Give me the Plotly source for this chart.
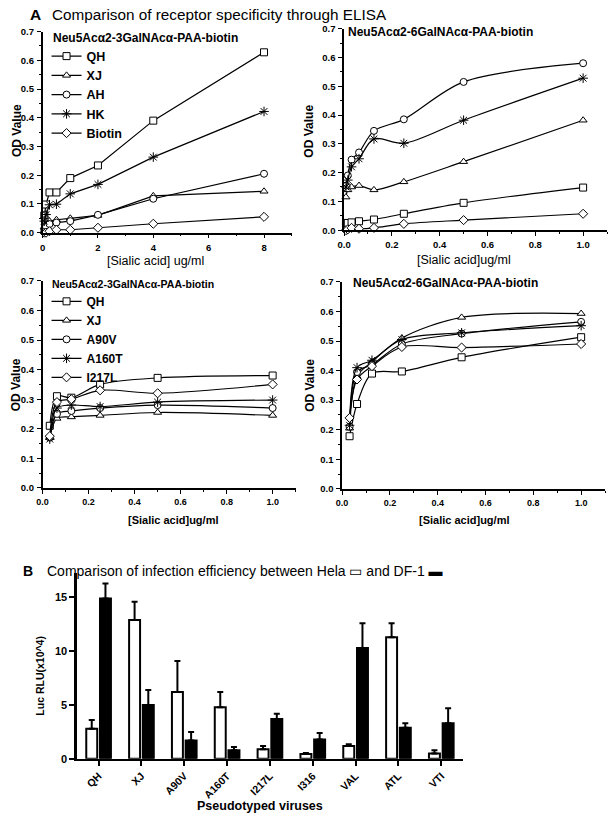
import plotly.graph_objects as go

W, H = 609, 822
FONT = "Liberation Sans, Arial, sans-serif"

# ---------------- data ----------------
# Panel A1: Neu5Aca2-3GalNAca-PAA-biotin (wild strains)
x_a1 = [0.0625, 0.125, 0.25, 0.5, 1, 2, 4, 8]
a1_QH = [0.06, 0.098, 0.14, 0.14, 0.19, 0.234, 0.39, 0.628]
a1_XJ = [0.02, 0.03, 0.04, 0.045, 0.05, 0.06, 0.128, 0.144]
a1_AH = [0.01, 0.02, 0.03, 0.035, 0.04, 0.062, 0.118, 0.205]
a1_HK = [0.04, 0.063, 0.097, 0.099, 0.135, 0.168, 0.263, 0.422]
a1_Biotin = [0.0, 0.0, 0.005, 0.01, 0.01, 0.017, 0.031, 0.055]

# Panel A2: Neu5Aca2-6GalNAca-PAA-biotin (wild strains)
x_a2 = [0.0078125, 0.015625, 0.03125, 0.0625, 0.125, 0.25, 0.5, 1.0]
a2_QH = [0.025, 0.025, 0.027, 0.031, 0.037, 0.057, 0.095, 0.148]
a2_XJ = [0.115, 0.14, 0.15, 0.155, 0.14, 0.168, 0.238, 0.382]
a2_AH = [0.155, 0.19, 0.245, 0.27, 0.345, 0.385, 0.515, 0.58]
a2_HK = [0.15, 0.174, 0.22, 0.248, 0.317, 0.302, 0.382, 0.528]
a2_Biotin = [0.0, 0.003, 0.008, 0.005, 0.008, 0.022, 0.035, 0.057]

# Panel A3: Neu5Aca2-3GalNAca-PAA-biotin (mutants)
x_a3 = [0.03125, 0.0625, 0.125, 0.25, 0.5, 1.0]
a3_QH = [0.21, 0.31, 0.305, 0.35, 0.372, 0.38]
a3_XJ = [0.17, 0.235, 0.24, 0.245, 0.255, 0.245]
a3_A90V = [0.17, 0.25, 0.26, 0.27, 0.28, 0.27]
a3_A160T = [0.165, 0.27, 0.28, 0.275, 0.29, 0.297]
a3_I217L = [0.175, 0.29, 0.30, 0.33, 0.32, 0.35]

# Panel A4: Neu5Aca2-6GalNAca-PAA-biotin (mutants)
x_a4 = [0.03125, 0.0625, 0.125, 0.25, 0.5, 1.0]
a4_QH = [0.178, 0.287, 0.39, 0.397, 0.445, 0.513]
a4_XJ = [0.205, 0.38, 0.43, 0.51, 0.58, 0.593]
a4_A90V = [0.21, 0.395, 0.42, 0.49, 0.525, 0.565]
a4_A160T = [0.215, 0.41, 0.435, 0.505, 0.528, 0.552]
a4_I217L = [0.24, 0.37, 0.415, 0.48, 0.478, 0.49]

# Panel B: infection efficiency
viruses = ["QH", "XJ", "A90V", "A160T", "I217L", "I316", "VAL", "ATL", "VTI"]
hela = [2.8, 12.9, 6.2, 4.8, 0.9, 0.45, 1.2, 11.3, 0.5]
hela_err = [0.8, 1.7, 2.9, 1.4, 0.3, 0.1, 0.15, 1.3, 0.3]
df1 = [14.9, 5.0, 1.7, 0.8, 3.7, 1.8, 10.3, 2.9, 3.3]
df1_err = [1.4, 1.4, 0.8, 0.3, 0.5, 0.6, 2.3, 0.4, 1.4]

# ---------------- helpers ----------------
def xd(a, b):
    return [a / W, b / W]

def yd(top, bottom):
    return [1 - bottom / H, 1 - top / H]

SYM = {
    "sq": "square", "tri": "triangle-up", "cir": "circle",
    "ast": "asterisk-open", "dia": "diamond",
}

def series(x, y, name, sym, ax, shape, legend=None, show=False):
    m = dict(symbol=SYM[sym], size=7, color="white",
             line=dict(color="black", width=1))
    if sym == "ast":
        m = dict(symbol=SYM[sym], size=8, color="black",
                 line=dict(color="black", width=1))
    return go.Scatter(
        x=x, y=y, name=name, mode="lines+markers",
        line=dict(color="black", width=1.2, shape=shape, smoothing=0.9),
        marker=m, xaxis="x" + ax, yaxis="y" + ax, cliponaxis=False,
        showlegend=show, legend=legend if legend else "legend",
    )

fig = go.Figure()

# A1
for y, n, s in [(a1_QH, "QH", "sq"), (a1_XJ, "XJ", "tri"), (a1_AH, "AH", "cir"),
                (a1_HK, "HK", "ast"), (a1_Biotin, "Biotin", "dia")]:
    fig.add_trace(series(x_a1, y, n, s, "", "linear", "legend", True))
# A2
for y, n, s in [(a2_QH, "QH", "sq"), (a2_XJ, "XJ", "tri"), (a2_AH, "AH", "cir"),
                (a2_HK, "HK", "ast"), (a2_Biotin, "Biotin", "dia")]:
    fig.add_trace(series(x_a2, y, n, s, "2", "spline"))
# A3
for y, n, s in [(a3_QH, "QH", "sq"), (a3_XJ, "XJ", "tri"), (a3_A90V, "A90V", "cir"),
                (a3_A160T, "A160T", "ast"), (a3_I217L, "I217L", "dia")]:
    fig.add_trace(series(x_a3, y, n, s, "3", "spline", "legend2", True))
# A4
for y, n, s in [(a4_QH, "QH", "sq"), (a4_XJ, "XJ", "tri"), (a4_A90V, "A90V", "cir"),
                (a4_A160T, "A160T", "ast"), (a4_I217L, "I217L", "dia")]:
    fig.add_trace(series(x_a4, y, n, s, "4", "spline"))

# B bars
fig.add_trace(go.Bar(
    x=viruses, y=hela, name="Hela", xaxis="x5", yaxis="y5",
    marker=dict(color="white", line=dict(color="black", width=2)),
    error_y=dict(type="data", array=hela_err, arrayminus=[0] * len(hela),
                 symmetric=False, color="black", thickness=2, width=3),
    showlegend=False,
))
fig.add_trace(go.Bar(
    x=viruses, y=df1, name="DF-1", xaxis="x5", yaxis="y5",
    marker=dict(color="black", line=dict(color="black", width=2)),
    error_y=dict(type="data", array=df1_err, arrayminus=[0] * len(df1),
                 symmetric=False, color="black", thickness=2, width=3),
    showlegend=False,
))

def lin_axis(domain, rng, dtick, mdtick, anchor, fmt=None, size=9.5):
    d = dict(domain=domain, range=rng, dtick=dtick, tick0=0, anchor=anchor,
             showline=True, linewidth=1.5, linecolor="black", mirror=False,
             ticks="outside", ticklen=4, tickwidth=1.2, tickcolor="black",
             showgrid=False, zeroline=False,
             tickfont=dict(family=FONT, size=size, color="black", weight="bold"),
             minor=dict(ticks="outside", ticklen=2, dtick=mdtick,
                        tickcolor="black", tickwidth=1),
             ticklabelstandoff=1)
    if fmt:
        d["tickformat"] = fmt
    return d

fig.update_layout(
    width=W, height=H,
    margin=dict(l=0, r=0, t=0, b=0),
    paper_bgcolor="white", plot_bgcolor="white",
    font=dict(family=FONT, color="black"),
    barmode="group", bargap=0.36, bargroupgap=0.2,
    xaxis=lin_axis(xd(36, 288), [0, 9], 2, 1, "y"),
    yaxis=lin_axis(yd(26, 230), [0, 0.7], 0.1, 0.05, "x", ".1f"),
    xaxis2=lin_axis(xd(341, 607), [0, 1.1], 0.2, 0.1, "y2", ".1f"),
    yaxis2=lin_axis(yd(23, 227.5), [0, 0.7], 0.1, 0.05, "x2", ".1f"),
    xaxis3=lin_axis(xd(36, 292), [0, 1.1], 0.2, 0.1, "y3", ".1f", 9),
    yaxis3=lin_axis(yd(279, 489), [0, 0.7], 0.1, 0.05, "x3", ".1f"),
    xaxis4=lin_axis(xd(339, 605), [0, 1.1], 0.2, 0.1, "y4", ".1f", 9),
    yaxis4=lin_axis(yd(280, 490), [0, 0.7], 0.1, 0.05, "x4", ".1f"),
    xaxis5=dict(domain=xd(71, 461), anchor="y5", range=[-0.5, 8.5],
                showline=True, linewidth=2, linecolor="black",
                ticks="outside", ticklen=5, tickwidth=2, tickcolor="black",
                tickangle=-45, showgrid=False, zeroline=False,
                tickfont=dict(family=FONT, size=10.5, color="black", weight="bold")),
    yaxis5=dict(domain=yd(575, 764), anchor="x5", range=[0, 17.3],
                tickvals=[0, 5, 10, 15],
                showline=True, linewidth=2.5, linecolor="black",
                ticks="outside", ticklen=5, tickwidth=2, tickcolor="black",
                showgrid=False, zeroline=False,
                tickfont=dict(family=FONT, size=11, color="black", weight="bold")),
    legend=dict(x=40 / W, y=1 - 36 / H, xanchor="left", yanchor="top",
                bgcolor="rgba(0,0,0,0)", itemwidth=30, tracegroupgap=0,
                font=dict(family=FONT, size=12.5, color="black", weight="bold")),
    legend2=dict(x=40 / W, y=1 - 285 / H, xanchor="left", yanchor="top",
                 bgcolor="rgba(0,0,0,0)", itemwidth=30, tracegroupgap=0,
                 font=dict(family=FONT, size=12, color="black", weight="bold")),
)

def ann(text, x, y, size, bold=False, angle=0, xanchor="center", yanchor="middle"):
    fig.add_annotation(
        text=("<b>%s</b>" % text) if bold else text,
        x=x / W, y=1 - y / H, xref="paper", yref="paper",
        showarrow=False, textangle=angle, xanchor=xanchor, yanchor=yanchor,
        font=dict(family=FONT, size=size, color="black"),
    )

# Figure-level titles
ann("A", 29, 9, 15.5, bold=True)
ann("Comparison of receptor specificity through ELISA", 44, 9, 15.3, xanchor="left")
ann("B", 21, 573, 14, bold=True)
ann("Comparison of infection efficiency between Hela ▭ and DF-1 ▬", 38, 573, 14, xanchor="left")

# Panel titles
ann("Neu5Acα2-3GalNAcα-PAA-biotin", 45, 32, 12, bold=True, xanchor="left")
ann("Neu5Acα2-6GalNAcα-PAA-biotin", 343, 26, 12, bold=True, xanchor="left")
ann("Neu5Acα2-3GalNAcα-PAA-biotin", 43, 282, 10.5, bold=True, xanchor="left")
ann("Neu5Acα2-6GalNAcα-PAA-biotin", 348, 281, 12, bold=True, xanchor="left")

# Axis titles
ann("OD Value", 10, 126, 12, bold=True, angle=-90)
ann("OD Value", 306, 127, 12, bold=True, angle=-90)
ann("OD Value", 9, 384, 12, bold=True, angle=-90)
ann("OD Value", 307, 385, 12, bold=True, angle=-90)
ann("[Sialic acid] ug/ml", 150, 259, 12.5)
ann("[Sialic acid]ug/ml", 462, 258, 12.5)
ann("[Sialic acid]ug/ml", 168, 522, 11, bold=True)
ann("[Sialic acid]ug/ml", 462, 522, 11, bold=True)
ann("Luc RLU(x10^4)", 33, 680, 10.5, bold=True, angle=-90)
ann("Pseudotyped viruses", 256, 812, 12.5, bold=True)

fig.write_html(
    "out.html",
    config={"displayModeBar": False},
    post_script="document.body.style.margin='0px';document.body.style.padding='0px';",
)
